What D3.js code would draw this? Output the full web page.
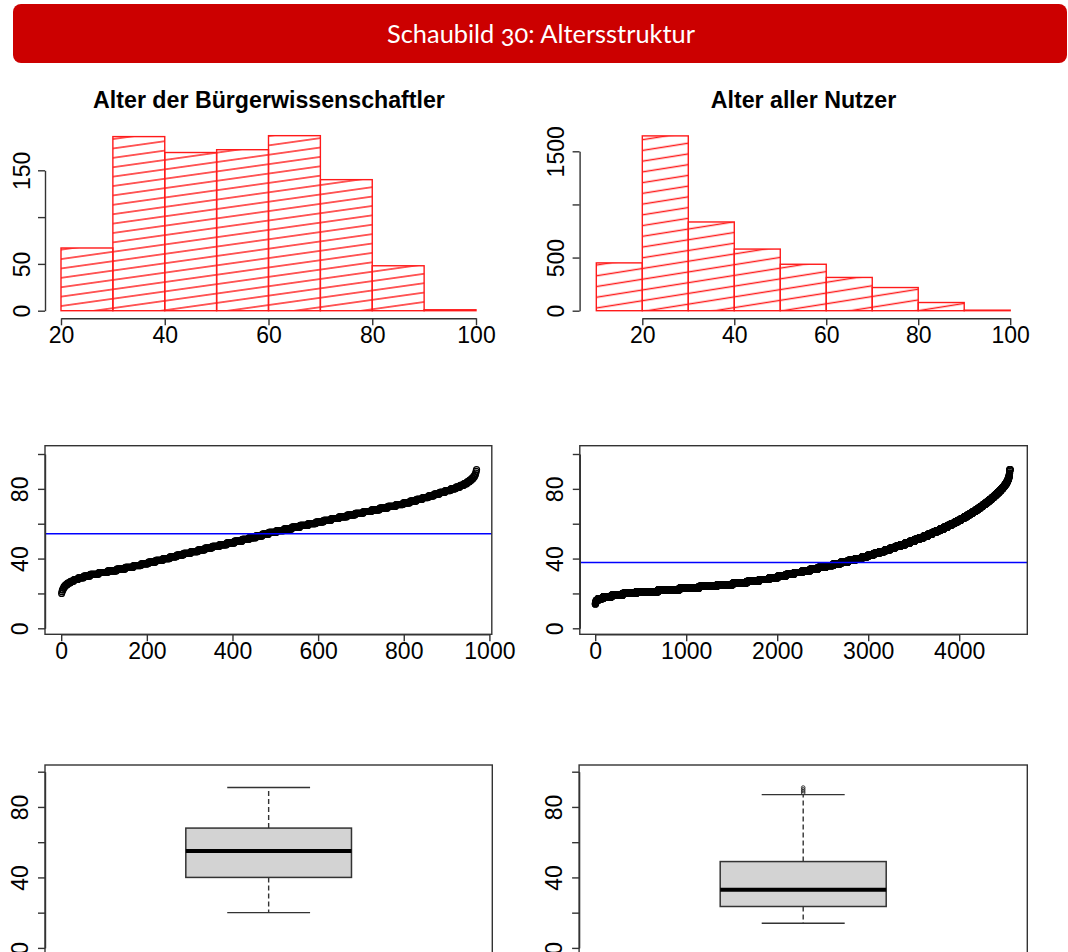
<!DOCTYPE html>
<html>
<head>
<meta charset="utf-8">
<script src="https://cdn.jsdelivr.net/npm/d3@7/dist/d3.min.js"></script>
<style>
  body { margin: 0; background: #ffffff; }
  svg { display: block; }
</style>
</head>
<body>
<svg id="chart" width="1068" height="952"></svg>
<script>
// ---- Data -------------------------------------------------------------
// Citizen scientists: number of persons per year of age
const citizenAges = [20,21,22,23,24,25,26,27,28,29,30,
  31,32,33,34,35,36,37,38,39,40, 41,42,43,44,45,46,47,48,49,50,
  51,52,53,54,55,56,57,58,59,60, 61,62,63,64,65,66,67,68,69,70,
  71,72,73,74,75,76,77,78,79,80, 81,82,83,84,85,86,87,88,89,90, 91];
const citizenCounts = [1,1,2,2,3,5,7,8,10,13,15,
  20,21,21,20,19,18,17,17,17,16, 16,16,17,17,16,17,17,17,18,18,
  16,16,15,15,18,18,18,19,19,18, 18,18,18,19,19,19,19,19,19,19,
  17,16,15,14,14,13,13,13,13,12, 10,9,7,6,5,4,3,2,1,1, 1];

// All users: number of persons per year of age
const userAges = [14,15,16,17,18,19,20,
  21,22,23,24,25,26,27,28,29,30, 31,32,33,34,35,36,37,38,39,40,
  41,42,43,44,45,46,47,48,49,50, 51,52,53,54,55,56,57,58,59,60,
  61,62,63,64,65,66,67,68,69,70, 71,72,73,74,75,76,77,78,79,80,
  81,82,83,84,85,86,87,88,89,90, 91];
const userCounts = [3,7,20,55,95,120,150,
  240,235,215,195,175,155,135,110,95,90, 90,89,88,86,85,83,82,80,78,74,
  66,64,62,60,58,57,55,54,53,51, 50,49,47,46,44,43,42,40,39,37,
  36,35,34,33,32,31,30,29,27,26, 26,25,24,23,22,21,21,20,19,17,
  16,14,12,10,8,7,4,3,2,1, 5];

// Histogram class limits
const citizenBreaks = [20,30,40,50,60,70,80,90,100];
const userBreaks = [10,20,30,40,50,60,70,80,90,100];

// Axis ticks and the tick labels that are printed
const histAgeTicks = [20,40,60,80,100];
const citizenFreqTicks = [0,50,100,150];
const citizenFreqLabels = [0,50,150];
const userFreqTicks = [0,500,1000,1500];
const userFreqLabels = [0,500,1500];
const ageTicks = [0,20,40,60,80,100];
const ageLabels = [0,40,80];
const citizenIndexTicks = [0,200,400,600,800,1000];
const userIndexTicks = [0,1000,2000,3000,4000];

const headerTitle = "Schaubild 30: Altersstruktur";
const citizenTitle = "Alter der Bürgerwissenschaftler";
const userTitle = "Alter aller Nutzer";

// ---- Helpers ----------------------------------------------------------
const expand = (ages, counts) => ages.flatMap((a, i) => Array(counts[i]).fill(a));
const citizenValues = expand(citizenAges, citizenCounts);   // already sorted
const userValues = expand(userAges, userCounts);

// class counts, right-closed classes, lowest limit included
function classCounts(values, breaks) {
  const out = breaks.slice(1).map(() => 0);
  values.forEach(v => {
    for (let i = 0; i < out.length; i++) {
      if ((v > breaks[i] || (i === 0 && v === breaks[0])) && v <= breaks[i + 1]) { out[i]++; break; }
    }
  });
  return out;
}

// Tukey five-number summary and whisker limits
function boxStats(sorted) {
  const n = sorted.length;
  const at = d => 0.5 * (sorted[Math.floor(d) - 1] + sorted[Math.ceil(d) - 1]);
  const n4 = Math.floor((n + 3) / 2) / 2;
  const q1 = at(n4), med = at((n + 1) / 2), q3 = at(n + 1 - n4);
  const iqr = q3 - q1;
  const lo = q1 - 1.5 * iqr, hi = q3 + 1.5 * iqr;
  const inside = sorted.filter(v => v >= lo && v <= hi);
  const outliers = Array.from(new Set(sorted.filter(v => v < lo || v > hi)));
  return { q1, med, q3, wLo: d3.min(inside), wHi: d3.max(inside), outliers };
}

const svg = d3.select("#chart");
const defs = svg.append("defs");
const AXIS = "#333333";
const FONT = "'Liberation Sans', Arial, sans-serif";
const TICK_SIZE = "23px";

function hatch(id, spacing, angle) {
  const p = defs.append("pattern").attr("id", id)
    .attr("patternUnits", "userSpaceOnUse")
    .attr("width", 40).attr("height", spacing)
    .attr("patternTransform", `rotate(${-angle})`);
  p.append("line").attr("x1", 0).attr("x2", 40)
    .attr("y1", spacing / 2).attr("y2", spacing / 2)
    .attr("stroke", "#ff1a1a").attr("stroke-width", 1.3);
}
hatch("hatchL", 9.3, 8);
hatch("hatchR", 10.6, 9);

function styleAxis(g) {
  g.select(".domain").attr("stroke", AXIS).attr("stroke-width", 1.4);
  g.selectAll(".tick line").attr("stroke", AXIS).attr("stroke-width", 1.4);
  g.selectAll(".tick text").attr("fill", "#000").style("font-family", FONT).style("font-size", TICK_SIZE);
}

function yAxis(x, scale, ticks, labels, gap) {
  const g = svg.append("g").attr("transform", `translate(${x},0)`)
    .call(d3.axisLeft(scale).tickValues(ticks)
      .tickFormat(d => labels.includes(d) ? String(d) : "")
      .tickSizeInner(7).tickSizeOuter(0));
  styleAxis(g);
  g.selectAll(".tick text")
    .attr("transform", "rotate(-90)")
    .attr("x", 0).attr("y", -gap).attr("dy", 0)
    .attr("text-anchor", "middle");
  return g;
}

function xAxis(y, scale, ticks) {
  const g = svg.append("g").attr("transform", `translate(0,${y})`)
    .call(d3.axisBottom(scale).tickValues(ticks).tickFormat(d => String(d))
      .tickSizeInner(7).tickSizeOuter(0));
  styleAxis(g);
  g.selectAll(".tick text").attr("y", 25).attr("dy", 0);
  return g;
}

function frame(x0, x1, y0, y1) {
  svg.append("rect").attr("x", x0).attr("y", y0)
    .attr("width", x1 - x0).attr("height", y1 - y0)
    .attr("fill", "none").attr("stroke", AXIS).attr("stroke-width", 1.4);
}

// ---- Header -----------------------------------------------------------
svg.append("rect").attr("x", 13).attr("y", 4).attr("width", 1054).attr("height", 59)
  .attr("rx", 8).attr("fill", "#cc0000");
svg.append("text").attr("x", 541).attr("y", 43)
  .attr("text-anchor", "middle")
  .attr("textLength", 308).attr("lengthAdjust", "spacingAndGlyphs")
  .style("font-family", "Lato, 'Open Sans', sans-serif")
  .style("font-size", "25px")
  .style("font-variant-numeric", "oldstyle-nums")
  .attr("fill", "#ffffff")
  .text(headerTitle);

// ---- Histograms -------------------------------------------------------
function histogram(cfg) {
  const x = d3.scaleLinear().domain([20, 100]).range(cfg.xRange);
  const y = d3.scaleLinear().domain([0, cfg.yMax]).range([310.7, cfg.yTop]);
  const counts = classCounts(cfg.values, cfg.breaks);
  const bins = counts.map((c, i) => ({ x0: cfg.breaks[i], x1: cfg.breaks[i + 1], n: c }));
  svg.append("g").selectAll("rect").data(bins).join("rect")
    .attr("x", d => x(d.x0)).attr("width", d => x(d.x1) - x(d.x0))
    .attr("y", d => y(d.n)).attr("height", d => y(0) - y(d.n))
    .attr("fill", `url(#${cfg.pattern})`)
    .attr("stroke", "#ff1a1a").attr("stroke-width", 1.4);
  yAxis(cfg.yAxisX, y, cfg.yTicks, cfg.yLabels, 15.5);
  xAxis(318.3, x, histAgeTicks);
  svg.append("text").attr("x", cfg.titleX).attr("y", 108)
    .attr("text-anchor", "middle")
    .style("font-family", FONT).style("font-size", "23.2px").style("font-weight", "bold")
    .attr("fill", "#000").text(cfg.title);
}

histogram({ values: citizenValues, breaks: citizenBreaks, xRange: [61, 476],
  yMax: 150, yTop: 170.3, yTicks: citizenFreqTicks, yLabels: citizenFreqLabels,
  yAxisX: 45, pattern: "hatchL", title: citizenTitle, titleX: 269 });
histogram({ values: userValues, breaks: userBreaks, xRange: [642.3, 1010.2],
  yMax: 1500, yTop: 151.3, yTicks: userFreqTicks, yLabels: userFreqLabels,
  yAxisX: 579.6, pattern: "hatchR", title: userTitle, titleX: 803.5 });

// ---- Sorted ages with mean line ----------------------------------------
function indexPlot(cfg) {
  const x = d3.scaleLinear().domain(cfg.xDomain).range(cfg.xRange);
  const y = d3.scaleLinear().domain([0, 100]).range([628.3, 454]);
  const [fx0, fx1, fy0, fy1] = cfg.frame;
  svg.append("g").selectAll("circle").data(cfg.values).join("circle")
    .attr("cx", (d, i) => x(i + 1)).attr("cy", d => y(d)).attr("r", 3)
    .attr("fill", "none").attr("stroke", "#000").attr("stroke-width", 1.2);
  const mean = d3.mean(cfg.values);
  svg.append("line").attr("x1", fx0).attr("x2", fx1)
    .attr("y1", y(mean)).attr("y2", y(mean))
    .attr("stroke", "#0000ff").attr("stroke-width", 1.5);
  frame(fx0, fx1, fy0, fy1);
  yAxis(fx0, y, ageTicks, ageLabels, 17);
  xAxis(fy1, x, cfg.ticks);
}

indexPlot({ values: citizenValues, xDomain: [0, 1000], xRange: [61.2, 489.4],
  frame: [45, 491.8, 445.7, 634.3], ticks: citizenIndexTicks });
indexPlot({ values: userValues, xDomain: [0, 4000], xRange: [595.2, 959.2],
  frame: [579.8, 1027.3, 445.7, 634.3], ticks: userIndexTicks });

// ---- Box plots ----------------------------------------------------------
function boxPlot(cfg) {
  const [fx0, fx1, fy0, fy1] = cfg.frame;
  const x = d3.scaleLinear().domain([0.46, 1.54]).range([fx0, fx1]);
  const y = d3.scaleLinear().domain([0, 100]).range([947.9, 771.7]);
  const s = boxStats(cfg.values);
  const g = svg.append("g");
  const bx0 = x(0.8), bx1 = x(1.2), cx = x(1), c0 = x(0.9), c1 = x(1.1);
  // whiskers
  [[s.q3, s.wHi], [s.q1, s.wLo]].forEach(([a, b]) => {
    g.append("line").attr("x1", cx).attr("x2", cx).attr("y1", y(a)).attr("y2", y(b))
      .attr("stroke", AXIS).attr("stroke-width", 1.4).attr("stroke-dasharray", "5,3");
    g.append("line").attr("x1", c0).attr("x2", c1).attr("y1", y(b)).attr("y2", y(b))
      .attr("stroke", AXIS).attr("stroke-width", 1.4);
  });
  g.append("rect").attr("x", bx0).attr("width", bx1 - bx0)
    .attr("y", y(s.q3)).attr("height", y(s.q1) - y(s.q3))
    .attr("fill", "#d3d3d3").attr("stroke", AXIS).attr("stroke-width", 1.5);
  g.append("line").attr("x1", bx0).attr("x2", bx1).attr("y1", y(s.med)).attr("y2", y(s.med))
    .attr("stroke", "#000").attr("stroke-width", 4);
  g.selectAll("circle").data(s.outliers).join("circle")
    .attr("cx", cx).attr("cy", d => y(d)).attr("r", 1.8)
    .attr("fill", "none").attr("stroke", AXIS).attr("stroke-width", 1);
  frame(fx0, fx1, fy0, fy1);
  yAxis(fx0, y, ageTicks, ageLabels, 17);
}

boxPlot({ values: citizenValues, frame: [45, 492.3, 765, 956] });
boxPlot({ values: userValues, frame: [579.1, 1027.3, 765, 956] });
</script>
</body>
</html>
